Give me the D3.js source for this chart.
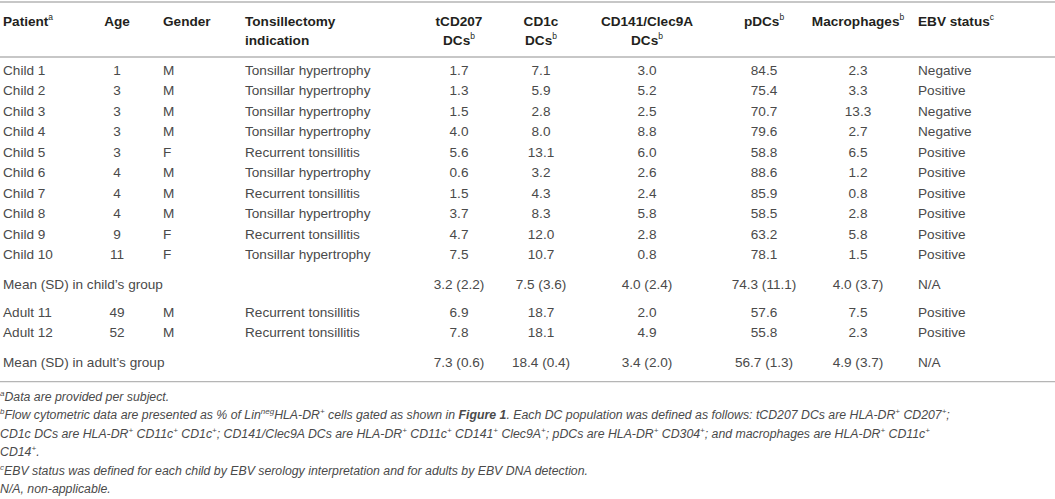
<!DOCTYPE html>
<html>
<head>
<meta charset="utf-8">
<script src="https://cdn.jsdelivr.net/npm/d3@7"></script>
<style>
  body { margin: 0; background: #fff; }
  svg { display: block; font-family: "Liberation Sans", Arial, sans-serif; }
  .cell { font-size: 13.6px; fill: #4a4a4a; }
  .head { font-size: 13.6px; font-weight: bold; fill: #231f20; }
  .note { font-size: 12.3px; font-style: italic; fill: #4a4a4a; }
  .rule { stroke: #b5b5b5; stroke-width: 1.3; }
</style>
</head>
<body>
<svg></svg>
<script>
// table values
const patients = ["Child 1","Child 2","Child 3","Child 4","Child 5","Child 6","Child 7","Child 8","Child 9","Child 10","Adult 11","Adult 12"]
const ages = [1,3,3,3,3,4,4,4,9,11,49,52]
const genders = ["M","M","M","M","F","M","M","M","F","F","M","M"]
const indications = ["Tonsillar hypertrophy","Tonsillar hypertrophy","Tonsillar hypertrophy","Tonsillar hypertrophy",
    "Recurrent tonsillitis","Tonsillar hypertrophy","Recurrent tonsillitis","Tonsillar hypertrophy",
    "Recurrent tonsillitis","Tonsillar hypertrophy","Recurrent tonsillitis","Recurrent tonsillitis"]
const tcd207 = [1.7,1.3,1.5,4.0,5.6,0.6,1.5,3.7,4.7,7.5,6.9,7.8]
const cd1c = [7.1,5.9,2.8,8.0,13.1,3.2,4.3,8.3,12.0,10.7,18.7,18.1]
const cd141 = [3.0,5.2,2.5,8.8,6.0,2.6,2.4,5.8,2.8,0.8,2.0,4.9]
const pdcs = [84.5,75.4,70.7,79.6,58.8,88.6,85.9,58.5,63.2,78.1,57.6,55.8]
const macrophages = [2.3,3.3,13.3,2.7,6.5,1.2,0.8,2.8,5.8,1.5,7.5,2.3]
const ebv = ["Negative","Positive","Negative","Negative","Positive","Positive","Positive","Positive","Positive","Positive","Positive","Positive"]

const childMean = ["3.2 (2.2)","7.5 (3.6)","4.0 (2.4)","74.3 (11.1)","4.0 (3.7)","N/A"]
const adultMean = ["7.3 (0.6)","18.4 (0.4)","3.4 (2.0)","56.7 (1.3)","4.9 (3.7)","N/A"]
const meanLabels = ["Mean (SD) in child’s group","Mean (SD) in adult’s group"]

// header: [line1, line2, superscript]
const headers = [
    ["Patient","","a"],["Age","",""],["Gender","",""],["Tonsillectomy","indication",""],
    ["tCD207","DCs","b"],["CD1c","DCs","b"],["CD141/Clec9A","DCs","b"],
    ["pDCs","","b"],["Macrophages","","b"],["EBV status","","c"]
]

const W = 1055, H = 499
const svg = d3.select("svg")
    .attr("width", W)
    .attr("height", H)
    .attr("viewBox", `0 0 ${W} ${H}`)

// column positions and alignments
const colKeys = ["patient","age","gender","indication","tcd207","cd1c","cd141","pdcs","macro","ebv"]
const colX = d3.scaleOrdinal()
    .domain(colKeys)
    .range([3,117,163,245,459,541,647,764,858,918])
const colAnchor = d3.scaleOrdinal()
    .domain(colKeys)
    .range(["start","middle","start","start","middle","middle","middle","middle","middle","start"])

// build rows: children, child mean, adults, adult mean
const fmt = d3.format(".1f")
const rows = patients.map((p,i) => ({
    kind: "data",
    cells: [p, String(ages[i]), genders[i], indications[i], fmt(tcd207[i]), fmt(cd1c[i]),
        fmt(cd141[i]), fmt(pdcs[i]), fmt(macrophages[i]), ebv[i]]
}))
const nChild = patients.filter(p => p.startsWith("Child")).length
const tableRows = [
    ...rows.slice(0,nChild),
    {kind:"mean", label: meanLabels[0], vals: childMean},
    ...rows.slice(nChild),
    {kind:"mean", label: meanLabels[1], vals: adultMean}
]
// slot index with extra space around mean rows
let slot = 0
tableRows.forEach((r,i) => {
    if (i > 0) slot += 1
    if (r.kind === "mean") slot += 0.45
    if (i > 0 && tableRows[i-1].kind === "mean") slot += 0.37
    r.slot = slot
})

const y = d3.scaleLinear().domain([0,1]).range([70, 90.5])

// rules
const rules = [2, 57, y(slot) + 19]
svg.selectAll("line.rule")
    .data(rules)
    .enter()
    .append("line")
    .attr("class","rule")
    .attr("x1",0).attr("x2",W)
    .attr("y1",d=>d).attr("y2",d=>d)

// header
const headG = svg.append("g")
headers.forEach((h,i) => {
    const key = colKeys[i]
    const t1 = headG.append("text")
        .attr("class","head")
        .attr("x", colX(key))
        .attr("y", 20.5)
        .attr("dominant-baseline","central")
        .attr("text-anchor", colAnchor(key))
    t1.append("tspan").text(h[0])
    if (h[2] && !h[1]) t1.append("tspan").attr("font-size","8.5px").attr("dy",-4).attr("font-weight","normal").text(h[2])
    if (h[1]) {
        const t2 = headG.append("text")
            .attr("class","head")
            .attr("x", colX(key))
            .attr("y", 40)
            .attr("dominant-baseline","central")
            .attr("text-anchor", colAnchor(key))
        t2.append("tspan").text(h[1])
        if (h[2]) t2.append("tspan").attr("font-size","8.5px").attr("dy",-4).attr("font-weight","normal").text(h[2])
    }
})

// body
const rowG = svg.selectAll("g.row")
    .data(tableRows)
    .enter()
    .append("g")
    .attr("class","row")
    .attr("transform", d => `translate(0,${y(d.slot)})`)

rowG.filter(d => d.kind === "data")
    .selectAll("text")
    .data(d => d.cells.map((c,j) => ({c, key: colKeys[j]})))
    .enter()
    .append("text")
    .attr("class","cell")
    .attr("x", d => colX(d.key))
    .attr("text-anchor", d => colAnchor(d.key))
    .attr("dominant-baseline","central")
    .text(d => d.c)

const meanRows = rowG.filter(d => d.kind === "mean")
meanRows.append("text")
    .attr("class","cell")
    .attr("x", colX("patient"))
    .attr("dominant-baseline","central")
    .text(d => d.label)
meanRows.selectAll("text.v")
    .data(d => d.vals.map((c,j) => ({c, key: colKeys[j+4]})))
    .enter()
    .append("text")
    .attr("class","cell v")
    .attr("x", d => colX(d.key))
    .attr("text-anchor", d => colAnchor(d.key))
    .attr("dominant-baseline","central")
    .text(d => d.c)

// footnotes: arrays of [text, style] pieces; style: "" normal, "sup" superscript, "b" bold
const notes = [
    [["a","sup"],["Data are provided per subject.",""]],
    [["b","sup"],["Flow cytometric data are presented as % of Lin",""],["neg","sup"],["HLA-DR",""],["+","sup"],
     [" cells gated as shown in ",""],["Figure 1","b"],[". Each DC population was defined as follows: tCD207 DCs are HLA-DR",""],
     ["+","sup"],[" CD207",""],["+","sup"],[";",""]],
    [["CD1c DCs are HLA-DR",""],["+","sup"],[" CD11c",""],["+","sup"],[" CD1c",""],["+","sup"],["; CD141/Clec9A DCs are HLA-DR",""],
     ["+","sup"],[" CD11c",""],["+","sup"],[" CD141",""],["+","sup"],[" Clec9A",""],["+","sup"],["; pDCs are HLA-DR",""],["+","sup"],
     [" CD304",""],["+","sup"],["; and macrophages are HLA-DR",""],["+","sup"],[" CD11c",""],["+","sup"]],
    [["CD14",""],["+","sup"],[".",""]],
    [["c","sup"],["EBV status was defined for each child by EBV serology interpretation and for adults by EBV DNA detection.",""]],
    [["N/A, non-applicable.",""]]
]
const noteY = d3.scaleLinear().domain([0,1]).range([rules[2] + 15, rules[2] + 33.5])

svg.selectAll("text.note")
    .data(notes)
    .enter()
    .append("text")
    .attr("class","note")
    .attr("x", 0)
    .attr("y", (d,i) => noteY(i))
    .attr("dominant-baseline","central")
    .each(function(parts){
        const t = d3.select(this)
        let raised = false
        parts.forEach(([s,style]) => {
            const sp = t.append("tspan").text(s)
            if (style === "sup") {
                sp.attr("font-size","8px")
                if (!raised) { sp.attr("dy",-4); raised = true }
            } else {
                if (raised) { sp.attr("dy",4); raised = false }
                if (style === "b") sp.attr("font-weight","bold")
            }
        })
    })
</script>
</body>
</html>
